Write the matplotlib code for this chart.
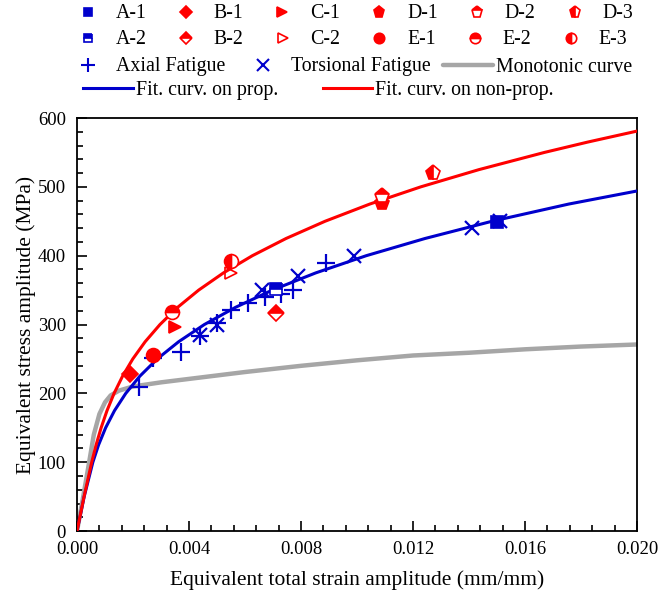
#!/usr/bin/env python3

import matplotlib.pyplot as plt
from matplotlib.lines import Line2D
from matplotlib.ticker import MultipleLocator, FormatStrFormatter

plt.rcParams['font.family'] = ['Liberation Serif', 'DejaVu Serif']

BLUE = '#0000cc'
RED = '#ff0000'
GREY = '#a6a6a6'

# monotonic tensile curve
mono_strain = [0, 0.0002, 0.0004, 0.0006, 0.0008, 0.0010, 0.0012, 0.0015, 0.0020,
               0.0030, 0.0040, 0.0060, 0.0080, 0.0100, 0.0120, 0.0140, 0.0160,
               0.0180, 0.0200]
mono_stress = [0, 45, 92, 140, 170, 187, 197, 204, 210,
               216, 221, 231, 240, 248, 255, 259, 264, 268, 271]

# fitted cyclic stress-strain curves
prop_stress = [0, 50, 100, 125, 150, 175, 200, 225, 250, 275, 300, 325, 350,
               375, 400, 425, 450, 475, 494]
prop_strain = [0, 0.000256, 0.000566, 0.000769, 0.001022, 0.00134, 0.001741,
               0.002244, 0.002865, 0.003629, 0.004548, 0.005662, 0.006974,
               0.008525, 0.01033, 0.01243, 0.01482, 0.01756, 0.0200]
nonprop_stress = [0, 50, 100, 125, 150, 175, 200, 225, 250, 275, 300, 325, 350,
                  375, 400, 425, 450, 475, 500, 525, 550, 565, 581]
nonprop_strain = [0, 0.000252, 0.000525, 0.000681, 0.000861, 0.001072, 0.001324,
                  0.001627, 0.001992, 0.002433, 0.002963, 0.003594, 0.004345,
                  0.005229, 0.006263, 0.007466, 0.008858, 0.010456, 0.012277,
                  0.014352, 0.016692, 0.018234, 0.0200]

# uniaxial / torsional tests
axial_strain = [0.0022, 0.0027, 0.0037, 0.0044, 0.0050, 0.0055, 0.0061, 0.0067,
                0.0073, 0.0077, 0.0089]
axial_stress = [209, 251, 260, 283, 302, 321, 331, 340, 345, 350, 390]
tors_strain = [0.0044, 0.0050, 0.0066, 0.0079, 0.0099, 0.0141, 0.0151]
tors_stress = [285, 300, 350, 371, 400, 440, 450]

# multiaxial specimens
spec_names = ['A-1', 'A-2', 'B-1', 'B-2', 'C-1', 'C-2',
              'D-1', 'D-2', 'D-3', 'E-1', 'E-2', 'E-3']
spec_strain = [0.0150, 0.0071, 0.0019, 0.0071, 0.0035, 0.0055,
               0.0109, 0.0109, 0.0127, 0.0027, 0.0034, 0.0055]
spec_stress = [449, 352, 228, 317, 296, 375,
               477, 487, 520, 255, 318, 393]

# marker, fillstyle, colour, size per specimen
spec_style = {
    'A-1': ('s', 'full', BLUE, 8),
    'A-2': ('s', 'top', BLUE, 8),
    'B-1': ('D', 'full', RED, 8),
    'B-2': ('D', 'top', RED, 8),
    'C-1': ('>', 'full', RED, 9),
    'C-2': ('>', 'none', RED, 9),
    'D-1': ('p', 'full', RED, 11),
    'D-2': ('p', 'top', RED, 11),
    'D-3': ('p', 'left', RED, 11),
    'E-1': ('o', 'full', RED, 10),
    'E-2': ('o', 'top', RED, 10),
    'E-3': ('o', 'left', RED, 10),
}

fig = plt.figure(figsize=(6.72, 5.96), dpi=100)
ax = fig.add_axes([0.1146, 0.109, 0.8334, 0.693])

ax.plot(mono_strain, mono_stress, color=GREY, lw=3.2, solid_capstyle='round',
        zorder=2)
ax.plot(prop_strain, prop_stress, color=BLUE, lw=2.2, zorder=3)
ax.plot(nonprop_strain, nonprop_stress, color=RED, lw=2.2, zorder=3)

ax.plot(axial_strain, axial_stress, ls='none', marker='+', ms=13, mew=1.6,
        color=BLUE, zorder=4)
ax.plot(tors_strain, tors_stress, ls='none', marker='x', ms=10, mew=1.6,
        color=BLUE, zorder=4)

handles = {}
for name, x, y in zip(spec_names, spec_strain, spec_stress):
    mk, fs, col, ms = spec_style[name]
    h, = ax.plot([x], [y], ls='none', marker=mk, ms=ms, fillstyle=fs,
                 color=col, markeredgecolor=col, markerfacecoloralt='white',
                 mew=1.2, zorder=5)
    handles[name] = h

ax.set_xlim(0, 0.02)
ax.set_ylim(0, 600)
ax.xaxis.set_major_locator(MultipleLocator(0.004))
ax.xaxis.set_minor_locator(MultipleLocator(0.0008))
ax.yaxis.set_major_locator(MultipleLocator(100))
ax.yaxis.set_minor_locator(MultipleLocator(20))
ax.xaxis.set_major_formatter(FormatStrFormatter('%.3f'))
ax.tick_params(which='both', direction='in', labelsize=13.5, top=False, right=False)
ax.tick_params(which='major', length=7, width=1.2)
ax.tick_params(which='minor', length=4, width=1.2)
ax.tick_params(axis='x', pad=7)
ax.tick_params(axis='y', pad=8)
for sp in ax.spines.values():
    sp.set_linewidth(1.3)

ax.set_xlabel('Equivalent total strain amplitude (mm/mm)', fontsize=15.5, labelpad=9)
ax.set_ylabel('Equivalent stress amplitude (MPa)', fontsize=15.5, labelpad=1)

# legend rows above the axes
leg_kw = dict(loc='center left', frameon=False, fontsize=14.3, handlelength=2.5,
              handletextpad=0.15, borderpad=0, borderaxespad=0,
              bbox_transform=fig.transFigure)


def row_legend(hs, labels, x_px, y_px, ncol, cs, scale=1.0):
    leg = fig.legend(hs, labels, ncol=ncol, columnspacing=cs, markerscale=scale,
                     bbox_to_anchor=(x_px / 672, 1 - y_px / 596), **leg_kw)
    return leg


row1 = ['A-1', 'B-1', 'C-1', 'D-1', 'D-2', 'D-3']
row2 = ['A-2', 'B-2', 'C-2', 'E-1', 'E-2', 'E-3']
row_legend([handles[n] for n in row1], row1, 63, 14, 6, 0.72, 0.75)
row_legend([handles[n] for n in row2], row2, 63, 40, 6, 0.72, 0.75)

h_ax = Line2D([], [], ls='none', marker='+', ms=10, mew=1.5, color=BLUE)
h_to = Line2D([], [], ls='none', marker='x', ms=8, mew=1.5, color=BLUE)
h_mo = Line2D([], [], color=GREY, lw=3.2, solid_capstyle='round')
row_legend([h_ax, h_to, h_mo], ['Axial Fatigue', 'Torsional Fatigue',
                                'Monotonic curve'], 63, 67, 3, 0.65)

h_bp = Line2D([], [], color=BLUE, lw=2.2)
h_rn = Line2D([], [], color=RED, lw=2.2)
row_legend([h_bp, h_rn], ['Fit. curv. on prop.', 'Fit. curv. on non-prop.'],
           83, 90, 2, 2.25)

fig.savefig('out.png', dpi=100)
